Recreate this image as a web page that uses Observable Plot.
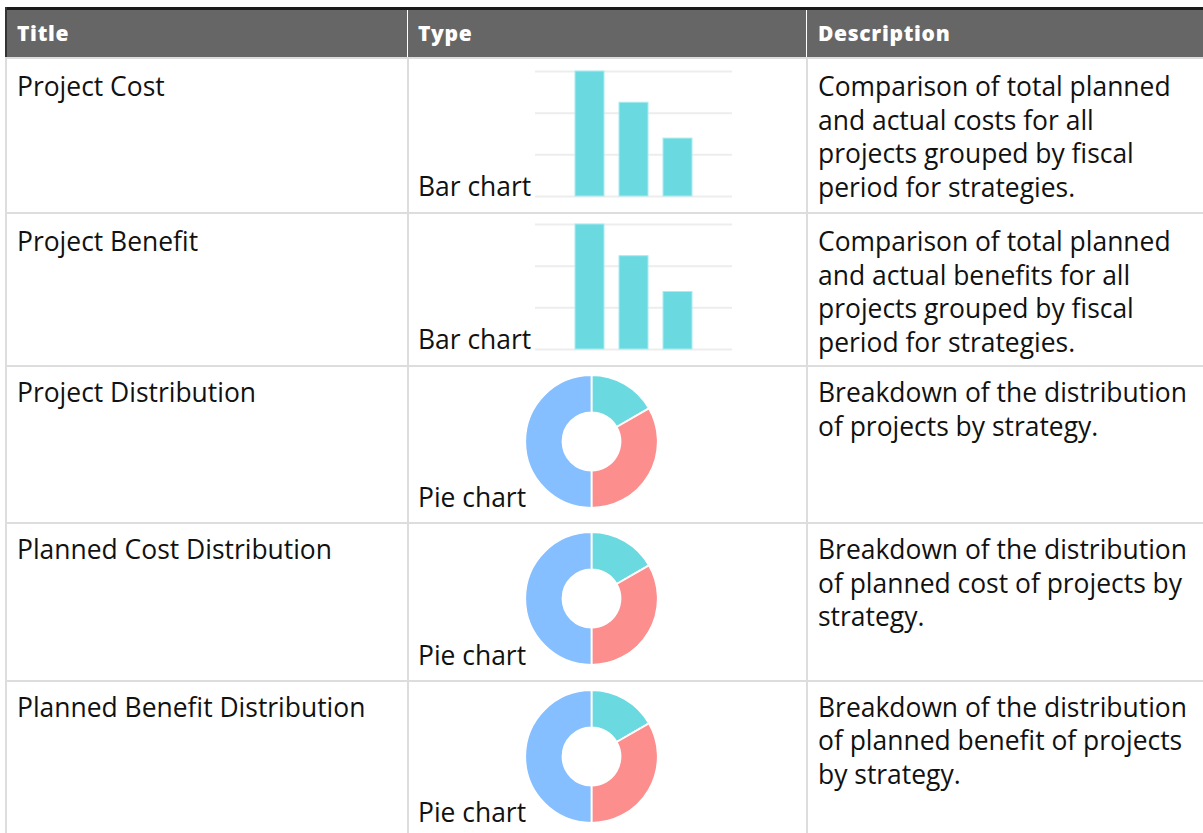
<!DOCTYPE html>
<html>
<head>
<meta charset="utf-8">
<script src="https://cdn.jsdelivr.net/npm/d3@7"></script>
<script src="https://cdn.jsdelivr.net/npm/@observablehq/plot@0.6"></script>
<style>
  html, body { margin: 0; padding: 0; background: #fff; overflow: hidden; }
  #page { position: relative; width: 1203px; height: 833px; overflow: hidden; font-family: "Open Sans", sans-serif; color: #111; }
  .abs { position: absolute; }
  .hdr { font-size: 21px; line-height: 21px; font-weight: 800; color: #fff; letter-spacing: 0.7px; white-space: nowrap; }
  .txt { font-size: 26.45px; line-height: 33.5px; white-space: nowrap; }
  svg { display: block; }
</style>
</head>
<body>
<div id="page"></div>
<script>
// ---------- data ----------
const headers = ["Title", "Type", "Description"];
const titles = ["Project Cost", "Project Benefit", "Project Distribution", "Planned Cost Distribution", "Planned Benefit Distribution"];
const types = ["Bar chart", "Bar chart", "Pie chart", "Pie chart", "Pie chart"];
const descriptions = [
  ["Comparison of total planned", "and actual costs for all", "projects grouped by fiscal", "period for strategies."],
  ["Comparison of total planned", "and actual benefits for all", "projects grouped by fiscal", "period for strategies."],
  ["Breakdown of the distribution", "of projects by strategy."],
  ["Breakdown of the distribution", "of planned cost of projects by", "strategy."],
  ["Breakdown of the distribution", "of planned benefit of projects", "by strategy."]
];
const fiscalPeriods = ["P1", "P2", "P3"];
const projectCost = [30, 22.5, 13.9];
const projectBenefit = [30, 22.4, 13.8];
const yTicks = [0, 10, 20, 30];
const strategies = ["Strategy A", "Strategy B", "Strategy C"];
const projectCounts = [1, 2, 3];
const plannedCostShares = [1, 2, 3];
const plannedBenefitShares = [1, 2, 3];
const strategyColors = ["#6bdae0", "#fd8e8e", "#86bfff"];
const barColor = "#6bdae0";

// ---------- layout ----------
const page = document.getElementById("page");
function box(x, y, w, h, bg) {
  const d = document.createElement("div");
  d.className = "abs";
  Object.assign(d.style, {left: x + "px", top: y + "px", width: w + "px", height: h + "px", background: bg});
  page.appendChild(d);
  return d;
}
function text(cls, x, baseline, str, offset) {
  const d = document.createElement("div");
  d.className = "abs " + cls;
  d.style.left = x + "px";
  d.style.top = (baseline - offset) + "px";
  d.textContent = str;
  page.appendChild(d);
  return d;
}
const colX = [17, 418, 818];
const seps = [57.3, 212, 365, 521.5, 680, 838];
const firstBaselines = [95.5, 250.5, 401.5, 558.5, 716];
const chartBottoms = [196, 348.7, 506.7, 664.4, 822];
const txtOffset = 25.4;
const hdrOffset = (21 - 21 * 1.362) / 2 + 21 * 1.069;

// header
box(5, 7.3, 1210, 2.7, "#1a1a1a");
box(5, 10, 1210, 47.3, "#666666");
box(5, 7.3, 1.5, 50, "#333");
box(406.5, 10, 1.2, 47.3, "#ffffff");
box(806.3, 10, 1.2, 47.3, "#ffffff");
headers.forEach((h, i) => text("hdr", colX[i], 41.3, h, hdrOffset));

// grid lines of body
seps.forEach(y => box(5, y, 1210, 2, "#dddddd"));
box(5, 57.3, 2, 800, "#dddddd");
box(406.5, 57.3, 2, 800, "#dddddd");
box(806.3, 57.3, 2, 800, "#dddddd");

// text cells
titles.forEach((t, i) => text("txt", colX[0], firstBaselines[i], t, txtOffset));
descriptions.forEach((lines, i) => lines.forEach((l, k) => text("txt", colX[2], firstBaselines[i] + k * 33.5, l, txtOffset)));
types.forEach((t, i) => text("txt", colX[1], chartBottoms[i] - 0.5, t, txtOffset));

// ---------- bar charts ----------
function barChart(values) {
  const data = fiscalPeriods.map((p, i) => ({period: p, value: values[i]}));
  return Plot.plot({
    width: 197, height: 129,
    marginTop: 2, marginBottom: 2, marginLeft: 0, marginRight: 0,
    x: {type: "band", domain: fiscalPeriods, paddingInner: 0.34, paddingOuter: 0.88, axis: null},
    y: {domain: [0, 30], axis: null},
    marks: [
      Plot.ruleY(yTicks, {stroke: "#ededed", strokeWidth: 2}),
      Plot.barY(data, {x: "period", y: "value", fill: barColor, stroke: "#a9ecef", strokeWidth: 1})
    ]
  });
}
[[projectCost, 0], [projectBenefit, 1]].forEach(([vals, r]) => {
  const svg = barChart(vals);
  const wrap = document.createElement("div");
  wrap.className = "abs";
  wrap.style.left = "535px";
  wrap.style.top = (chartBottoms[r] - 127) + "px";
  wrap.appendChild(svg);
  page.appendChild(wrap);
});

// ---------- donut charts ----------
const strategyColor = Plot.scale({color: {type: "ordinal", domain: strategies, range: strategyColors}});
function donut(values) {
  const data = strategies.map((s, i) => ({strategy: s, value: values[i]}));
  const arcs = d3.pie().sort(null).value(d => d.value)(data);
  const arc = d3.arc().innerRadius(29).outerRadius(66.3);
  return Plot.plot({
    width: 133, height: 133, margin: 0,
    marks: [
      (index, scales, values2, dims) => {
        const g = d3.create("svg:g").attr("transform", `translate(${dims.width / 2},${dims.height / 2})`);
        g.selectAll("path").data(arcs).join("path")
          .attr("d", arc)
          .attr("fill", d => strategyColor.apply(d.data.strategy))
          .attr("stroke", "#fff")
          .attr("stroke-width", 1.8)
          .attr("stroke-linejoin", "round");
        return g.node();
      }
    ]
  });
}
[[projectCounts, 2], [plannedCostShares, 3], [plannedBenefitShares, 4]].forEach(([vals, r]) => {
  const svg = donut(vals);
  const wrap = document.createElement("div");
  wrap.className = "abs";
  wrap.style.left = "525.2px";
  wrap.style.top = (chartBottoms[r] - 132) + "px";
  wrap.appendChild(svg);
  page.appendChild(wrap);
});
</script>
</body>
</html>
